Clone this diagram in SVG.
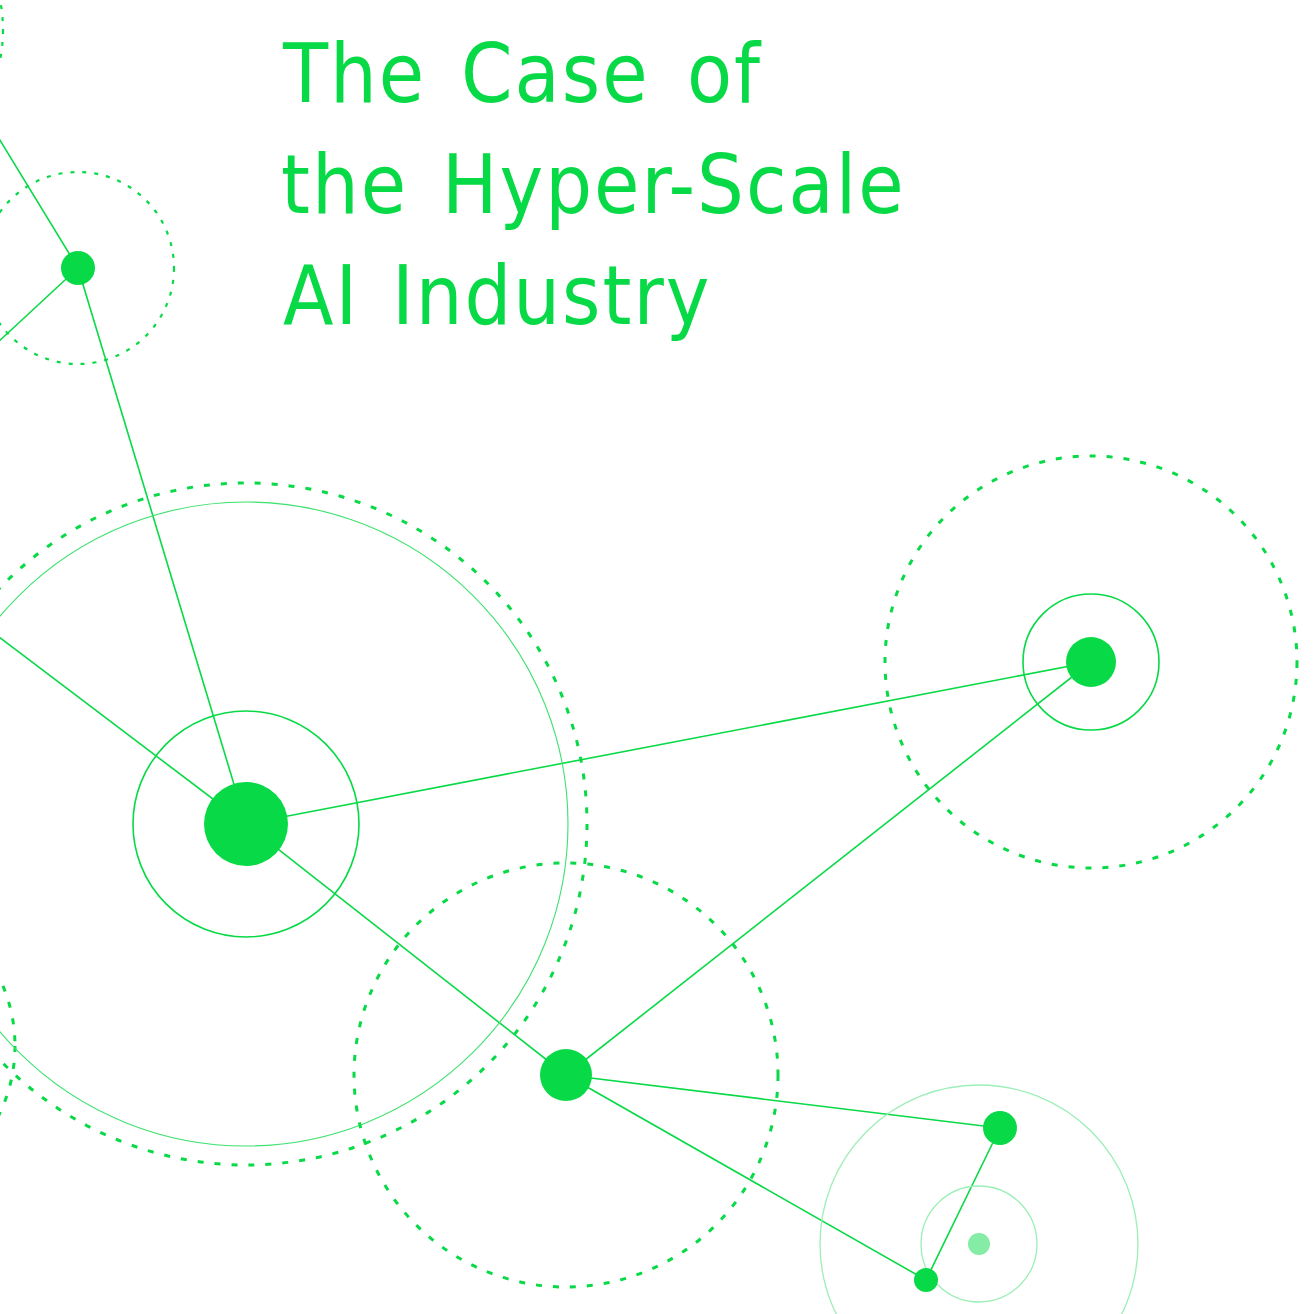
<svg xmlns="http://www.w3.org/2000/svg" width="1314" height="1314" viewBox="0 0 1314 1314">
<style>
.ln{stroke:#08d946;stroke-width:1.6;fill:none}
.dot{fill:#08d946}
.ring{fill:none;stroke:#08d946;stroke-width:1.6}
.thin{fill:none;stroke:#3fe170;stroke-width:1.1}
.pale{fill:none;stroke:#9cefb6;stroke-width:1.3}
.dash{fill:none;stroke:#08d946;stroke-width:3;stroke-dasharray:6 11}
.dashs{fill:none;stroke:#08d946;stroke-width:2.2;stroke-dasharray:4 8}
.title{font-family:"DejaVu Sans Condensed","DejaVu Sans",sans-serif;font-size:82px;fill:#08d946;letter-spacing:2px}
</style>
<rect width="1314" height="1314" fill="#ffffff"/>
<g id="connectors">
<line class="ln" x1="78" y1="268" x2="-30" y2="91"/>
<line class="ln" x1="78" y1="268" x2="-30" y2="368"/>
<line class="ln" x1="246" y1="824" x2="-30" y2="615"/>
<line class="ln" x1="246" y1="824" x2="78" y2="268"/>
<line class="ln" x1="246" y1="824" x2="1091" y2="662"/>
<line class="ln" x1="246" y1="824" x2="566" y2="1075"/>
<line class="ln" x1="566" y1="1075" x2="1091" y2="662"/>
<line class="ln" x1="566" y1="1075" x2="1000" y2="1128"/>
<line class="ln" x1="566" y1="1075" x2="926" y2="1280"/>
<line class="ln" x1="1000" y1="1128" x2="926" y2="1280"/>
</g>
<g id="edge-top-left"><circle class="dashs" cx="-150" cy="30" r="153"/></g>
<g id="edge-left"><circle class="dash" cx="-141" cy="1046" r="156"/></g>
<g id="node-b">
<circle class="dashs" cx="78" cy="268" r="96"/>
<circle class="dot" cx="78" cy="268" r="17"/>
</g>
<g id="node-a">
<circle class="dash" cx="246" cy="824" r="341"/>
<circle class="thin" cx="246" cy="824" r="322"/>
<circle class="ring" cx="246" cy="824" r="113"/>
<circle class="dot" cx="246" cy="824" r="42"/>
</g>
<g id="node-c">
<circle class="dash" cx="1091" cy="662" r="206"/>
<circle class="ring" cx="1091" cy="662" r="68"/>
<circle class="dot" cx="1091" cy="662" r="25"/>
</g>
<g id="node-d">
<circle class="dash" cx="566" cy="1075" r="212"/>
<circle class="dot" cx="566" cy="1075" r="26"/>
</g>
<g id="node-g">
<circle class="pale" cx="979" cy="1244" r="159"/>
<circle class="pale" cx="979" cy="1244" r="58"/>
<circle cx="979" cy="1244" r="11" fill="#84eca5"/>
</g>
<g id="node-e"><circle class="dot" cx="1000" cy="1128" r="17"/></g>
<g id="node-f"><circle class="dot" cx="926" cy="1280" r="12"/></g>
<g id="title">
<text class="title" y="102"><tspan x="283">The</tspan><tspan x="461">Case</tspan><tspan x="687">of</tspan></text>
<text class="title" y="213"><tspan x="281">the</tspan><tspan x="442">Hyper-Scale</tspan></text>
<text class="title" y="324"><tspan x="283">AI</tspan><tspan x="392">Industry</tspan></text>
</g>
</svg>
